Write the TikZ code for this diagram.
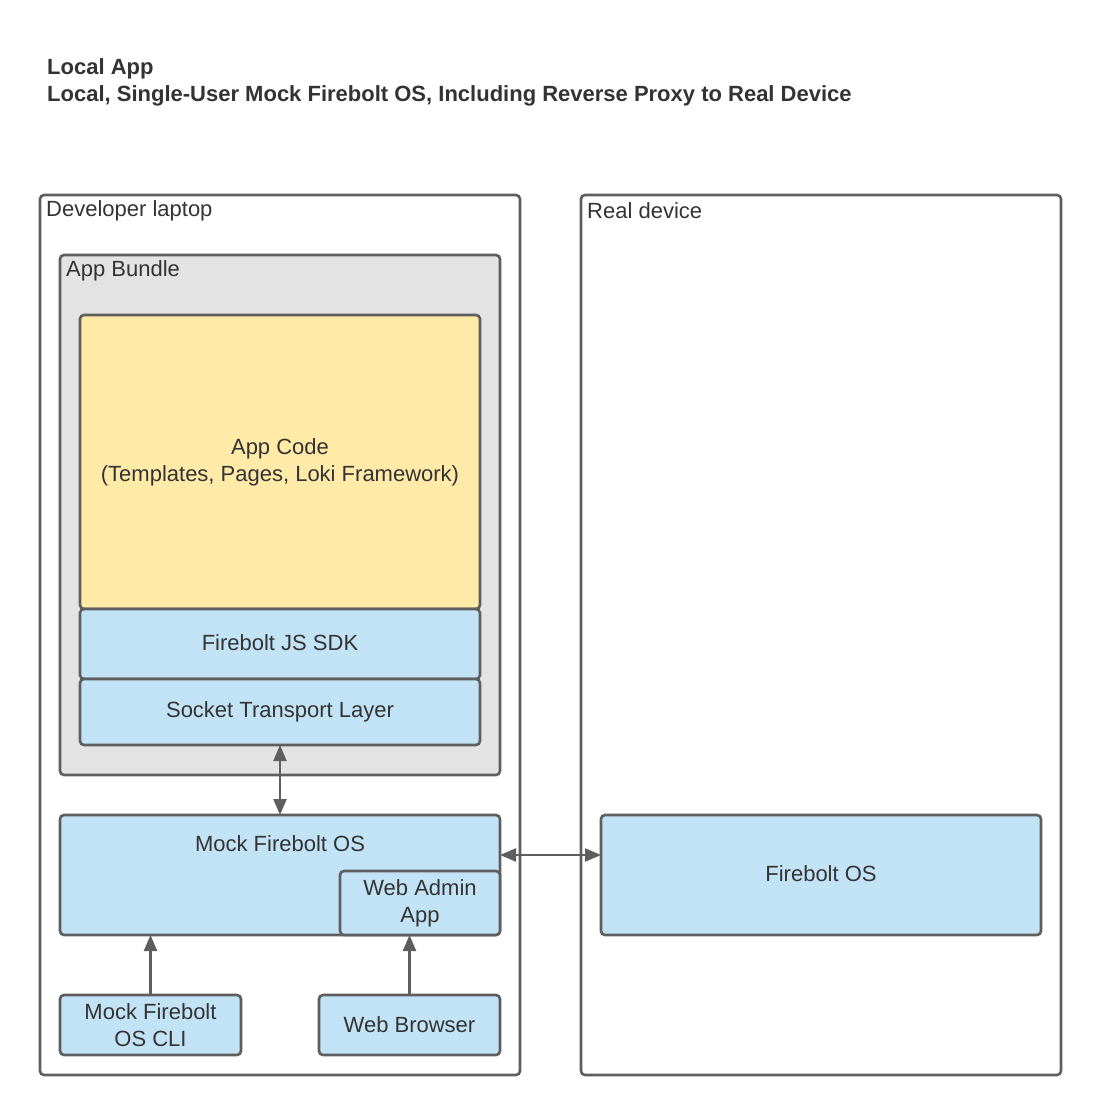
\documentclass[tikz,border=0pt]{standalone}
\usepackage{fontspec}
\setmainfont{Liberation Sans}
\usetikzlibrary{arrows.meta}
\definecolor{bordc}{HTML}{5E5E5E}
\definecolor{txtc}{HTML}{333333}
\definecolor{bluef}{HTML}{C2E3F6}
\definecolor{yellowf}{HTML}{FFEAA8}
\definecolor{greyf}{HTML}{E3E3E3}
\begin{document}
\begin{tikzpicture}[x=1pt,y=-1pt,
  box/.style={draw=bordc, line width=2.6pt, rounded corners=4pt, anchor=north west, inner sep=0pt, outer sep=0pt, text=txtc, font=\fontsize{22}{27}\selectfont, align=center},
  lbl/.style={anchor=west, inner sep=0pt, text=txtc, font=\fontsize{22}{27}\selectfont},
  ttl/.style={anchor=west, inner sep=0pt, text=txtc, font=\fontsize{22}{27}\selectfont\bfseries},
  arr/.style={draw=bordc, line width=2.2pt, {Triangle[length=16pt,width=13pt]}-{Triangle[length=16pt,width=13pt]}},
  arrup/.style={draw=bordc, line width=2.2pt, -{Triangle[length=16pt,width=13pt]}}]
\useasboundingbox (0,0) rectangle (1101,1115);
\node[ttl] (t1) at (47,69) {Local App};
\node[ttl] (t2) at (47,96) {Local, Single-User Mock Firebolt OS, Including Reverse Proxy to Real Device};
\node[box, fill=white, minimum width=480, minimum height=880] (laptop) at (40,195) {};
\node[lbl] (laptoplbl) at (46,211) {Developer laptop};
\node[box, fill=white, minimum width=480, minimum height=880] (device) at (581,195) {};
\node[lbl] (devicelbl) at (587,211) {Real device};
\node[box, fill=greyf, minimum width=440, minimum height=520] (bundle) at (60,255) {};
\node[lbl] (bundlelbl) at (66,271) {App Bundle};
\node[box, fill=yellowf, minimum width=400, minimum height=294] (code) at (80,315) {App Code\\(Templates, Pages, Loki Framework)};
\node[box, fill=bluef, minimum width=400, minimum height=70] (sdk) at (80,609) {\raisebox{3pt}{Firebolt JS SDK}};
\node[box, fill=bluef, minimum width=400, minimum height=66] (socket) at (80,679) {Socket Transport Layer};
\node[box, fill=bluef, minimum width=440, minimum height=120] (mock) at (60,815) {};
\node[lbl, anchor=center] (mocklbl) at (280,844) {Mock Firebolt OS};
\node[box, fill=bluef, minimum width=160, minimum height=64] (admin) at (340,871) {Web Admin\\App};
\node[box, fill=bluef, minimum width=440, minimum height=120] (fos) at (601,815) {\raisebox{3pt}{Firebolt OS}};
\node[box, fill=bluef, minimum width=181, minimum height=60] (cli) at (60,995) {\raisebox{1pt}{\parbox{170pt}{\centering Mock Firebolt\\OS CLI}}};
\node[box, fill=bluef, minimum width=181, minimum height=60] (browser) at (319,995) {\raisebox{1pt}{Web Browser}};
\draw[arr] (socket.south) -- (mock.north);
\draw[arr] ([yshift=20pt]mock.east) -- ([yshift=20pt]fos.west);
\draw[arrup] (cli.north) -- (cli.north |- mock.south);
\draw[arrup] (browser.north) -- (browser.north |- admin.south);
\end{tikzpicture}
\end{document}
